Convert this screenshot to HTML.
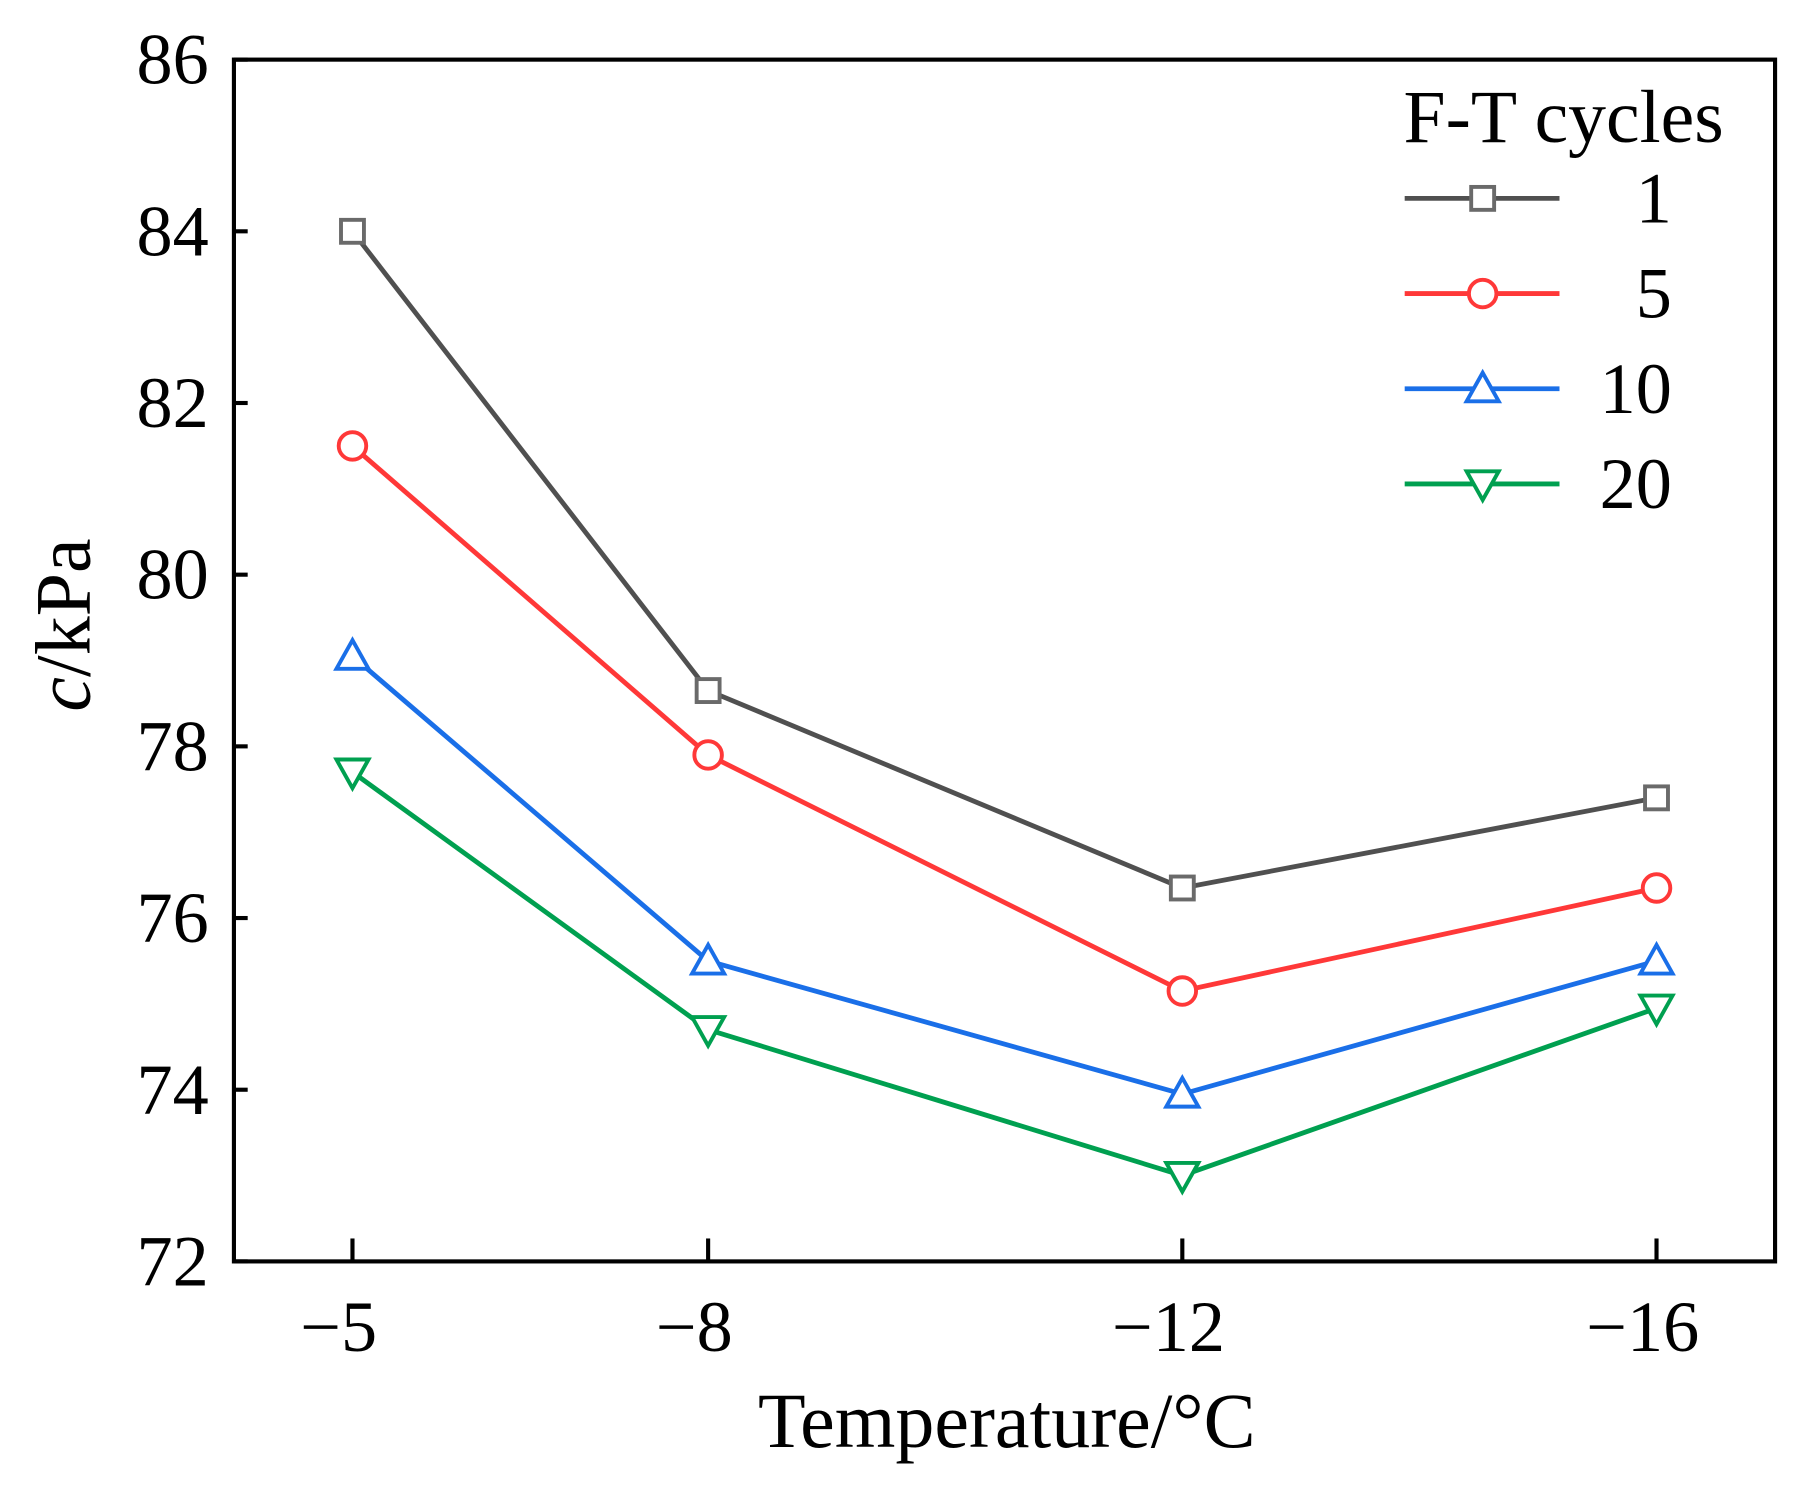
<!DOCTYPE html>
<html><head><meta charset="utf-8"><style>
html,body{margin:0;padding:0;background:#fff;}
svg{display:block;font-family:"Liberation Serif",serif;}
</style></head><body>
<svg id="chart" width="1798" height="1488" viewBox="0 0 1568 1297.6" preserveAspectRatio="none" xmlns="http://www.w3.org/2000/svg"></svg>
<script>
const categories = [-5, -8, -12, -16];
const xTickLabels = ["\u22125", "\u22128", "\u221212", "\u221216"];
const yTicks = [72, 74, 76, 78, 80, 82, 84, 86];
const seriesNames = ["1", "5", "10", "20"];
const s1 = [84.0, 78.65, 76.35, 77.4];
const s5 = [81.5, 77.9, 75.15, 76.35];
const s10 = [79.05, 75.5, 73.95, 75.5];
const s20 = [77.7, 74.7, 73.0, 74.95];

const L=204, R=1548, T=52, B=1100;
const xMin=-4, xMax=-17, yMin=72, yMax=86;
const xs = v => L + (v - xMin) / (xMax - xMin) * (R - L);
const ys = v => B - (v - yMin) / (yMax - yMin) * (B - T);
const svg = document.getElementById('chart');
const NS = "http://www.w3.org/2000/svg";
function mk(tag, attrs, parent){ const e=document.createElementNS(NS,tag); for(const k in attrs) e.setAttribute(k,attrs[k]); (parent||svg).appendChild(e); return e; }

const frame = mk('rect',{x:L,y:T,width:R-L,height:B-T,fill:'none',stroke:'#000','stroke-width':3.6});



yTicks.forEach(v=>{
  const t = mk('line',{x1:L,x2:L+12,y1:ys(v),y2:ys(v),stroke:'#000','stroke-width':3.6});
  
  
  const lb = mk('text',{x:L-22,y:ys(v)+21,'text-anchor':'end','font-size':63});
  lb.textContent = v;
  
  
});
categories.forEach((c,i)=>{
  const t = mk('line',{x1:xs(c),x2:xs(c),y1:B,y2:B-20,stroke:'#000','stroke-width':3.6});
  
  
  const lb = mk('text',{x:xs(c)-12,y:B+78,'text-anchor':'middle','font-size':63});
  lb.textContent = xTickLabels[i];
  
  
});
const xt = mk('text',{x:878,y:1262,'text-anchor':'middle','font-size':68});
xt.textContent='Temperature/\u00B0C';


const yt = mk('text',{x:0,y:0,'text-anchor':'middle','font-size':68,transform:'translate(78,545) rotate(-90)'});
yt.innerHTML='<tspan font-style="italic">c</tspan>/kPa';



const styles = [
  {data:s1, color:'#505050', mc:'#6a6a6a', m:'square'},
  {data:s5, color:'#ff3838', mc:'#ff3838', m:'circle'},
  {data:s10, color:'#1a6fe8', mc:'#1a6fe8', m:'up'},
  {data:s20, color:'#00a050', mc:'#00a050', m:'down'}
];
function marker(type,x,y,color,g){
  let e;
  if(type==='square') e=mk('rect',{x:x-10,y:y-10,width:20,height:20,fill:'#fff',stroke:color,'stroke-width':3.4},g);
  else if(type==='circle') e=mk('circle',{cx:x,cy:y,r:12,fill:'#fff',stroke:color,'stroke-width':3.4},g);
  else if(type==='up') e=mk('polygon',{points:`${x},${y-14} ${x-14},${y+11} ${x+14},${y+11}`,fill:'#fff',stroke:color,'stroke-width':3.4},g);
  else e=mk('polygon',{points:`${x},${y+14} ${x-14},${y-11} ${x+14},${y-11}`,fill:'#fff',stroke:color,'stroke-width':3.4},g);
  return e;
}
styles.forEach((s,si)=>{
  const g = mk('g',{});
  
  
  const pts = s.data.map((v,i)=>xs(categories[i])+','+ys(v)).join(' ');
  const pl = mk('polyline',{points:pts,fill:'none',stroke:s.color,'stroke-width':4.2},g);
  
  
  s.data.forEach((v,i)=>{
    const m = marker(s.m,xs(categories[i]),ys(v),s.mc,g);
    
    
  });
  const ly = 173 + si*83;
  const lg = mk('g',{});
  
  
  mk('line',{x1:1225,x2:1360,y1:ly,y2:ly,stroke:s.color,'stroke-width':4.2},lg);
  marker(s.m,1293,ly,s.mc,lg);
  const lt = mk('text',{x:1458,y:ly+21,'text-anchor':'end','font-size':63},lg);
  lt.textContent = seriesNames[si];
});
const lt = mk('text',{x:1224,y:124,'font-size':66});
lt.textContent='F-T cycles';


</script>
</body></html>
